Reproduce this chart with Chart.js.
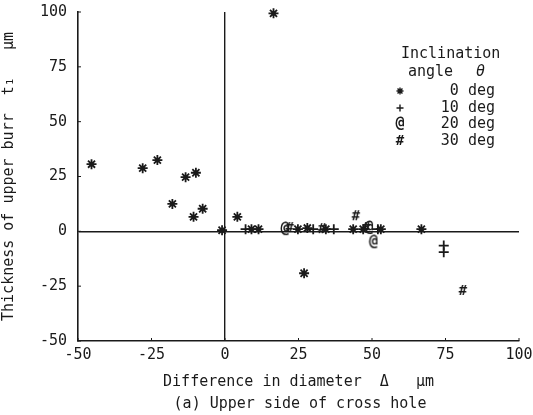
<!DOCTYPE html>
<html><head><meta charset="utf-8">
<script src="https://cdn.jsdelivr.net/npm/chart.js@4.4.1/dist/chart.umd.min.js"></script>
<style>html,body{margin:0;padding:0;background:#fff}#wrap{width:533px;height:415px;position:relative}</style>
</head><body><div id="wrap"><canvas id="c"></canvas></div>
<script>
const xTicks = [-50, -25, 0, 25, 50, 75, 100];
const yTicks = [-50, -25, 0, 25, 50, 75, 100];
const seriesNames = ['0 deg', '10 deg', '20 deg', '30 deg'];
const deg0X = [-45.4, -28, -23, -13.4, -9.9, -17.9, -10.7, -7.6, 4.2, 16.5, 26.9, -1, 9, 11.4, 24.8, 28, 34.3, 43.6, 47, 53, 66.8];
const deg0Y = [30.6, 28.8, 32.5, 24.7, 26.7, 12.5, 6.6, 10.3, 6.6, 99.4, -19.1, 0.5, 1, 1, 1, 1.5, 1, 1, 1, 1, 1];
const deg10X = [74.4, 74.4, 7, 30, 37, 52];
const deg10Y = [-6.5, -9.5, 1, 1, 1, 1];
const deg20X = [20.4, 50.5, 49];
const deg20Y = [1, -5, 1.5];
const deg30X = [44.5, 80.9, 22, 33, 48];
const deg30Y = [6.9, -27.2, 1.5, 1, 1.5];

const FONT = "'DejaVu Sans Mono', 'Liberation Mono', monospace";
const INK = '#1a1a1a';

function glyph(ch, size) {
  const c = document.createElement('canvas');
  c.width = 16; c.height = 16;
  const g = c.getContext('2d');
  g.fillStyle = INK;
  g.font = 'bold ' + size + 'px ' + FONT;
  g.textAlign = 'center'; g.textBaseline = 'middle';
  g.fillText(ch, 8, 8.5);
  return c;
}
const atMark = glyph('@', 15);
const hashMark = glyph('#', 14);

const styles = ['star', 'cross', atMark, hashMark];
const xs = [deg0X, deg10X, deg20X, deg30X];
const ys = [deg0Y, deg10Y, deg20Y, deg30Y];

const datasets = seriesNames.map((n, i) => ({
  label: n,
  data: xs[i].map((x, k) => ({x: x, y: ys[i][k]})),
  pointStyle: styles[i],
  pointRadius: 5,
  pointBorderWidth: 1.8,
  borderColor: INK,
  backgroundColor: INK,
  showLine: false
}));

const extras = {
  id: 'extras',
  afterDraw(chart) {
    const ctx = chart.ctx;
    const xs_ = chart.scales.x, ys_ = chart.scales.y;
    const a = chart.chartArea;
    ctx.save();
    ctx.strokeStyle = INK; ctx.lineWidth = 1;
    yTicks.forEach(v => {
      const p = ys_.getPixelForValue(v);
      ctx.beginPath(); ctx.moveTo(a.left, p); ctx.lineTo(a.left + 3, p); ctx.stroke();
    });
    xTicks.forEach(v => {
      const p = xs_.getPixelForValue(v);
      ctx.beginPath(); ctx.moveTo(p, a.bottom); ctx.lineTo(p, a.bottom - 3); ctx.stroke();
    });
    ctx.fillStyle = INK;
    ctx.font = '15px ' + FONT;
    ctx.textBaseline = 'middle';
    ctx.textAlign = 'left';
    ctx.fillText('Inclination', 401, 54);
    ctx.fillText('angle', 408, 72);
    ctx.font = 'italic 15px ' + FONT;
    ctx.fillText('\u03b8', 476, 72);
    ctx.font = '15px ' + FONT;
    ctx.textAlign = 'right';
    const rowY = [91, 108, 124, 141];
    seriesNames.forEach((n, i) => {
      ctx.fillText(n, 495, rowY[i]);
      const st = styles[i];
      if (typeof st === 'string') {
        ctx.lineWidth = 1.4;
        Chart.helpers.drawPoint(ctx, {pointStyle: st, radius: 3.5, rotation: 0, borderWidth: 1.4}, 400, rowY[i]);
      } else {
        ctx.drawImage(st, 392, rowY[i] - 8);
      }
    });
    ctx.textAlign = 'center';
    ctx.font = '15px ' + FONT;
    ctx.fillText('(a) Upper side of cross hole', 300, 404);
    ctx.restore();
  }
};

new Chart(document.getElementById('c'), {
  type: 'scatter',
  data: {datasets: datasets},
  options: {
    responsive: true,
    maintainAspectRatio: false,
    animation: false,
    layout: {padding: {top: 12, right: 14, bottom: 24, left: 0}},
    plugins: {legend: {display: false}, tooltip: {enabled: false}},
    clip: false,
    scales: {
      x: {
        type: 'linear', min: -50, max: 100,
        afterBuildTicks: s => { s.ticks = xTicks.map(v => ({value: v})); },
        afterFit: s => { s.height = 50; s.paddingLeft = 0; s.paddingRight = 0; },
        ticks: {color: INK, font: {family: FONT, size: 15}, padding: 5, maxRotation: 0},
        grid: {drawTicks: false, color: c => (c.tick && c.tick.value === 0 ? INK : 'rgba(0,0,0,0)'), lineWidth: 1.4},
        border: {display: true, color: INK, width: 1.6},
        title: {display: true, text: 'Difference in diameter  \u0394   \u03bcm', color: INK, font: {family: FONT, size: 15}, padding: {top: 4, bottom: 0}}
      },
      y: {
        type: 'linear', min: -50, max: 100,
        afterBuildTicks: s => { s.ticks = yTicks.map(v => ({value: v})); },
        afterFit: s => { s.width = 78; s.paddingTop = 0; s.paddingBottom = 0; },
        ticks: {color: INK, font: {family: FONT, size: 15}, padding: 11},
        grid: {drawTicks: false, color: c => (c.tick && c.tick.value === 0 ? INK : 'rgba(0,0,0,0)'), lineWidth: 1.4},
        border: {display: true, color: INK, width: 1.6},
        title: {display: true, text: 'Thickness of upper burr  t\u2081   \u03bcm', color: INK, font: {family: FONT, size: 15}, padding: {top: 0, bottom: 0}}
      }
    }
  },
  plugins: [extras]
});
</script></body></html>
